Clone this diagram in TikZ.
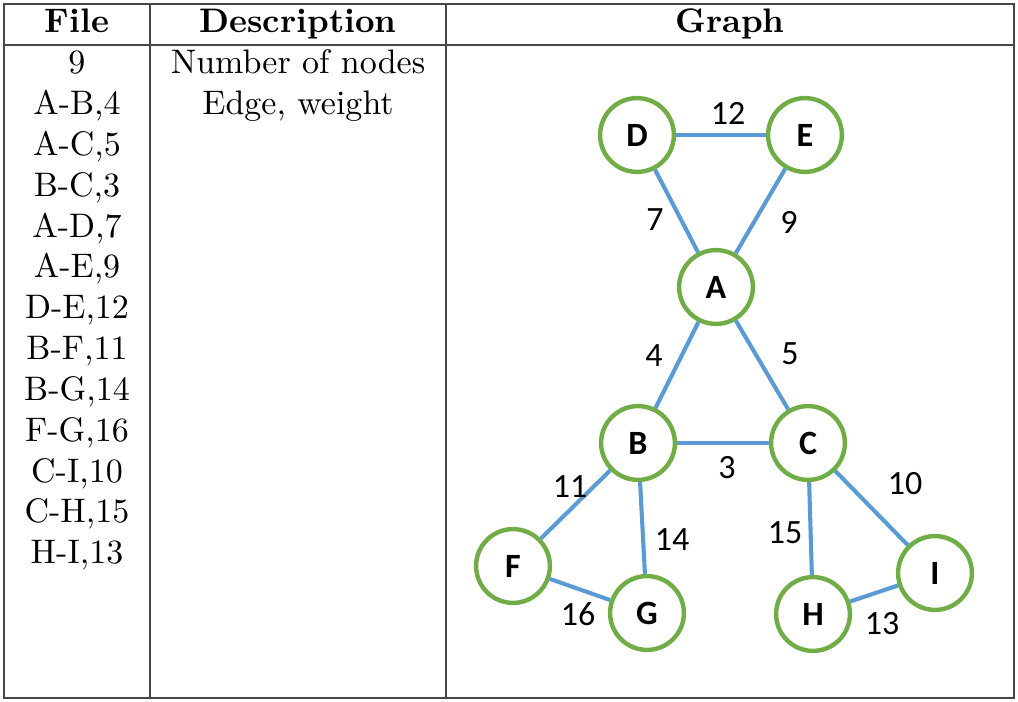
\documentclass[tikz,border=0pt]{standalone}
\usepackage{fontspec}
\newfontfamily\nodefont{Carlito}

\definecolor{vgreen}{RGB}{112,173,71}
\definecolor{eblue}{RGB}{91,155,213}
\definecolor{rulegray}{RGB}{70,70,70}

\tikzset{
  vertex/.style={circle, draw=vgreen, line width=1.3pt, fill=white,
    minimum size=21.7pt, inner sep=0pt, font=\nodefont\bfseries\fontsize{10}{10}\selectfont},
  edge/.style={draw=eblue, line width=1.2pt},
  weight/.style={font=\nodefont\fontsize{10}{10}\selectfont, inner sep=0pt},
  cell/.style={inner sep=0pt, anchor=base}
}

\begin{document}
\begin{tikzpicture}[x=0.294pt, y=-0.294pt]
        \useasboundingbox (0,0) rectangle (1018,702);

        % Draw the table rules
        \draw[rulegray, line width=0.6pt] (4,4) rectangle (1014,698);
        \draw[rulegray, line width=0.6pt] (4,45) -- (1014,45);
        \draw[rulegray, line width=0.6pt] (150,4) -- (150,698);
        \draw[rulegray, line width=0.6pt] (446,4) -- (446,698);

        % Header
        \node[cell] (hfile) at (77,33) {\textbf{File}};
        \node[cell] (hdesc) at (298,33) {\textbf{Description}};
        \node[cell] (hgraph) at (730,33) {\textbf{Graph}};

        % File column
        \foreach \txt [count=\i] in {9, A-B{,}4, A-C{,}5, B-C{,}3, A-D{,}7, A-E{,}9,
            D-E{,}12, B-F{,}11, B-G{,}14, F-G{,}16, C-I{,}10, C-H{,}15, H-I{,}13}
          \node[cell] (f\i) at (77,{74+40.8*(\i-1)}) {\txt};

        % Description column
        \node[cell] (d1) at (298,74) {Number of nodes};
        \node[cell] (d2) at (298,114.8) {Edge, weight};

        % Graph vertices
        \node[vertex] (D) at (637,135) {D};
        \node[vertex] (E) at (805,135) {E};
        \node[vertex] (A) at (716,287) {A};
        \node[vertex] (B) at (638,443) {B};
        \node[vertex] (C) at (808,443) {C};
        \node[vertex] (F) at (513,566) {F};
        \node[vertex] (G) at (647,613) {G};
        \node[vertex] (H) at (813,614) {H};
        \node[vertex] (I) at (935,573) {I};

        % Graph edges
        \draw[edge] (D) -- (E);
        \draw[edge] (D) -- (A);
        \draw[edge] (E) -- (A);
        \draw[edge] (A) -- (B);
        \draw[edge] (A) -- (C);
        \draw[edge] (B) -- (C);
        \draw[edge] (B) -- (F);
        \draw[edge] (B) -- (G);
        \draw[edge] (F) -- (G);
        \draw[edge] (C) -- (I);
        \draw[edge] (C) -- (H);
        \draw[edge] (H) -- (I);

        % Edge weights
        \node[weight] (w12) at (728,113) {12};
        \node[weight] (w7) at (655,220) {7};
        \node[weight] (w9) at (789,222) {9};
        \node[weight] (w4) at (654,356) {4};
        \node[weight] (w5) at (790,354) {5};
        \node[weight] (w3) at (727,468) {3};
        \node[weight] (w11) at (570,487) {11};
        \node[weight] (w14) at (672,540) {14};
        \node[weight] (w10) at (905,484) {10};
        \node[weight] (w15) at (785,533) {15};
        \node[weight] (w16) at (578,614) {16};
        \node[weight] (w13) at (882,624) {13};
    \end{tikzpicture}
\end{document}
